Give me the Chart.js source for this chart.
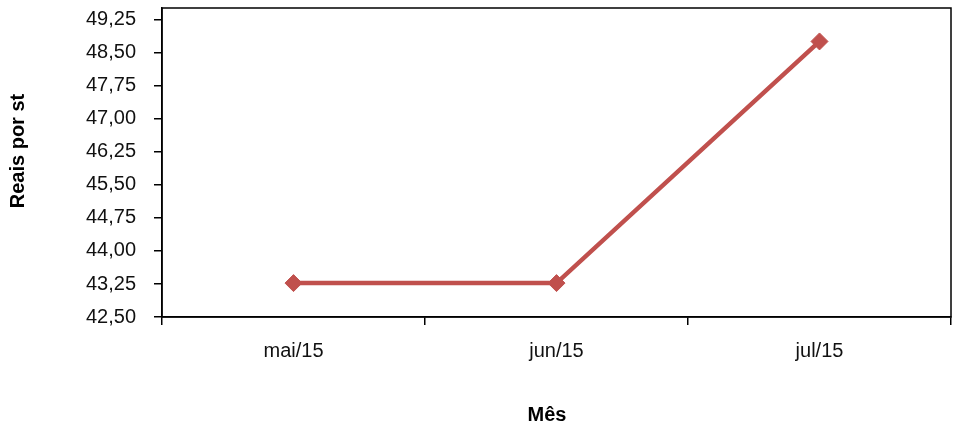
<!DOCTYPE html>
<html>
<head>
<meta charset="utf-8">
<script src="https://cdn.jsdelivr.net/npm/chart.js@4.4.1/dist/chart.umd.min.js"></script>
<style>
  html, body { margin: 0; padding: 0; background: #fff; }
  #wrap { width: 953px; height: 428px; position: relative; }
</style>
</head>
<body>
<div id="wrap"><canvas id="c" width="953" height="428"></canvas></div>
<script>
// Preço médio mensal (R$ por estéreo)
const months = ['mai/15', 'jun/15', 'jul/15'];
const prices = [43.27, 43.27, 48.76];
const yTickValues = [42.50, 43.25, 44.00, 44.75, 45.50, 46.25, 47.00, 47.75, 48.50, 49.25];
const yTickLabels = ['42,50', '43,25', '44,00', '44,75', '45,50', '46,25', '47,00', '47,75', '48,50', '49,25'];
const yAxisTitle = 'Reais por st';
const xAxisTitle = 'Mês';

const FONT = '"Liberation Sans", Arial, sans-serif';
const RED = '#C0504D';

// Frame around the plot area plus the two axis titles
const framePlugin = {
  id: 'frame',
  afterDraw(chart) {
    const { ctx, chartArea: a } = chart;
    ctx.save();
    ctx.strokeStyle = '#000';
    ctx.lineWidth = 1.5;
    ctx.strokeRect(a.left, a.top, a.right - a.left, a.bottom - a.top);

    ctx.fillStyle = '#000';
    ctx.font = 'bold 20px ' + FONT;
    ctx.textAlign = 'center';
    ctx.textBaseline = 'middle';
    ctx.save();
    ctx.translate(18, 151);
    ctx.rotate(-Math.PI / 2);
    ctx.fillText(yAxisTitle, 0, 0);
    ctx.restore();
    ctx.fillText(xAxisTitle, 547, 415);
    ctx.restore();
  }
};

// Keep the plot area edges fixed: no extra room reserved for edge labels
function noEdgePadding(scale) {
  scale.paddingTop = 0;
  scale.paddingBottom = 0;
  scale.paddingLeft = 0;
  scale.paddingRight = 0;
}

new Chart(document.getElementById('c'), {
  type: 'line',
  data: {
    labels: months,
    datasets: [{
      data: prices,
      borderColor: RED,
      backgroundColor: RED,
      borderWidth: 4.5,
      pointStyle: 'rectRot',
      pointRadius: 8.5,
      pointHoverRadius: 8.5,
      pointBackgroundColor: RED,
      pointBorderColor: RED,
      pointBorderWidth: 1,
      tension: 0
    }]
  },
  options: {
    responsive: false,
    animation: false,
    events: [],
    layout: { autoPadding: false, padding: { top: 8, right: 2, left: 0, bottom: 0 } },
    plugins: { legend: { display: false }, tooltip: { enabled: false } },
    scales: {
      x: {
        type: 'category',
        offset: true,
        grid: {
          offset: true,
          drawOnChartArea: false,
          drawTicks: true,
          tickLength: 8,
          color: '#000',
          lineWidth: 1.5
        },
        border: { display: true, color: '#000', width: 1.5 },
        ticks: {
          color: '#111',
          padding: 14,
          font: { family: FONT, size: 20 },
          maxRotation: 0
        },
        afterFit(scale) { scale.height = 111; noEdgePadding(scale); }
      },
      y: {
        min: 42.5,
        max: 49.52,
        grid: {
          drawOnChartArea: false,
          drawTicks: true,
          tickLength: 8,
          color: '#000',
          lineWidth: 1.5
        },
        border: { display: true, color: '#000', width: 1.5 },
        afterBuildTicks(scale) {
          scale.ticks = yTickValues.map(v => ({ value: v }));
        },
        ticks: {
          color: '#111',
          padding: 18,
          font: { family: FONT, size: 20 },
          callback(value) {
            const i = yTickValues.findIndex(v => Math.abs(v - value) < 1e-6);
            return i >= 0 ? yTickLabels[i] : '';
          }
        },
        afterFit(scale) { scale.width = 162; noEdgePadding(scale); }
      }
    }
  },
  plugins: [framePlugin]
});
</script>
</body>
</html>
